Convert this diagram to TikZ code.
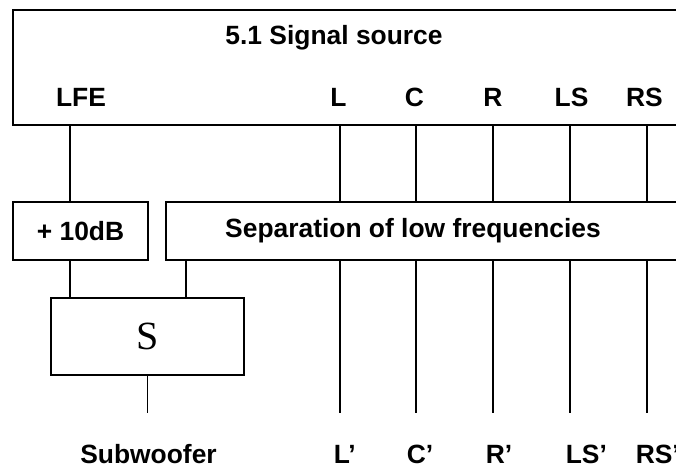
\documentclass[tikz,border=0pt]{standalone}
\usepackage{fontspec}
\setmainfont{Liberation Sans}
\newfontfamily\sumfont{Liberation Serif}
\usetikzlibrary{positioning,calc}
\newcommand\lblfont{\fontsize{26.4}{30}\selectfont\bfseries}
\tikzset{
    every picture/.style={line width=1.5pt},
    block/.style={rectangle,draw,outer sep=0pt,inner sep=0pt,font=\lblfont},
    chan/.style={anchor=base,inner sep=0pt,font=\lblfont},
    chanout/.style={anchor=base west,inner sep=0pt,font=\lblfont}
}

\begin{document}
\begin{tikzpicture}[x=1pt,y=-1pt]
    \clip (0,0) rectangle (676,466);

    % 5.1 source
    \node[block,minimum width=687pt,minimum height=115pt] (src) at (356.5,67.5) {};
    \node[chan] (title) at (334,44) {5.1 Signal source};
    \node[chan] (iLFE) at (81,106) {LFE};
    \node[chan] (iL) at (338.5,106) {L};
    \node[chan] (iC) at (414.5,106) {C};
    \node[chan] (iR) at (493,106) {R};
    \node[chan] (iLS) at (571.5,106) {LS};
    \node[chan] (iRS) at (644.5,106) {RS};

    % gain and crossover
    \node[block,minimum width=135pt,minimum height=58pt] (gain) at (80.5,231) {+ 10dB};
    \node[block,minimum width=534pt,minimum height=58pt] (sep) at (433,231) {};
    \node[chan] (septext) at (413,237) {Separation of low frequencies};

    % summing
    \node[block,minimum width=193pt,minimum height=77pt,
        font=\sumfont\fontsize{40}{44}\selectfont] (sum) at (147.5,336.5) {S};

    % outputs
    \node[chan] (oSub) at (148.5,463) {Subwoofer};
    \node[chanout] (oL) at (333,463) {L’};
    \node[chanout] (oC) at (406,463) {C’};
    \node[chanout] (oR) at (485,463) {R’};
    \node[chanout] (oLS) at (565,463) {LS’};
    \node[chanout] (oRS) at (635,463) {RS’};

    % LFE path
    \coordinate (tLFE) at (70,125);
    \coordinate (lfin) at ([xshift=20pt]sep.south west);
    \coordinate (eSub) at (sum.south |- 0,413);
    \draw (tLFE) -- (tLFE |- gain.north);
    \draw (tLFE |- gain.south) -- (tLFE |- sum.north);
    \draw (lfin) -- (lfin |- sum.north);
    \draw (sum.south) -- (eSub);

    % main channels
    \foreach \ch/\x in {L/340,C/416,R/493,LS/570,RS/647} {
        \coordinate (t\ch) at (\x,125);
        \coordinate (e\ch) at (\x,413);
        \draw (t\ch) -- (t\ch |- sep.north);
        \draw (t\ch |- sep.south) -- (e\ch);
    }
\end{tikzpicture}
\end{document}
